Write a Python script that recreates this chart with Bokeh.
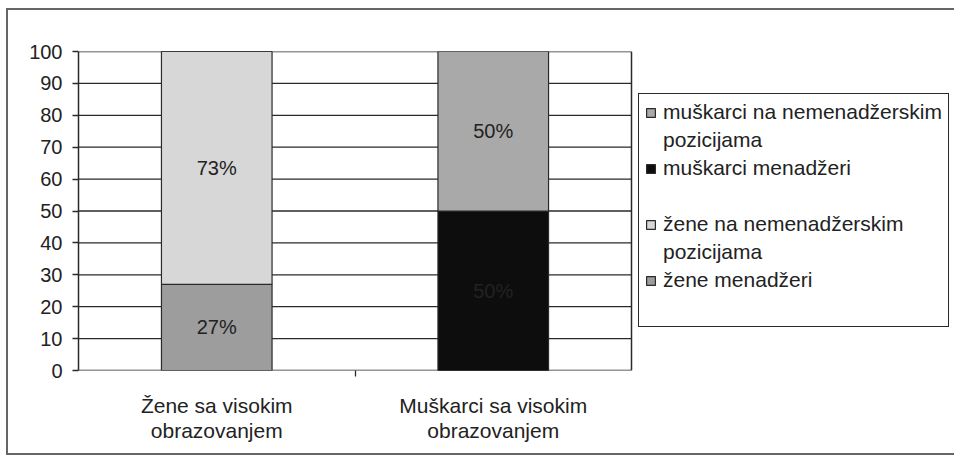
from bokeh.plotting import figure
from bokeh.models import Range1d, FixedTicker, Legend, LegendItem, ColumnDataSource
from bokeh.core.properties import value
from bokeh.embed import file_html
from bokeh.resources import INLINE

# ---- data ----
categories = ["Žene sa visokim\nobrazovanjem", "Muškarci sa visokim\nobrazovanjem"]
zene_menadzeri = [27, 0]
zene_nemenadzeri = [73, 0]
muskarci_menadzeri = [0, 50]
muskarci_nemenadzeri = [0, 50]
series_names = ["zene_menadzeri", "zene_nemenadzeri", "muskarci_menadzeri", "muskarci_nemenadzeri"]
series_values = [zene_menadzeri, zene_nemenadzeri, muskarci_menadzeri, muskarci_nemenadzeri]
# legend rows: (text, series or None for a continuation / blank row)
legend_rows = [
    ("muškarci na nemenadžerskim", "muskarci_nemenadzeri"),
    ("pozicijama", None),
    ("muškarci menadžeri", "muskarci_menadzeri"),
    (" ", None),
    ("žene na nemenadžerskim", "zene_nemenadzeri"),
    ("pozicijama", None),
    ("žene menadžeri", "zene_menadzeri"),
    ("  ", None),
]
y_ticks = [0, 10, 20, 30, 40, 50, 60, 70, 80, 90, 100]

colors = {
    "zene_menadzeri": "#9d9d9d",
    "zene_nemenadzeri": "#d7d7d7",
    "muskarci_menadzeri": "#0d0d0d",
    "muskarci_nemenadzeri": "#a9a9a9",
}

FONT = "Liberation Sans"
DARK = "#2a2a2a"

# layout constants (pixels)
W, H = 948, 447
LEFT, TOP = 70, 41
PLOT_W, PLOT_H = 553, 319
BOTTOM = H - TOP - PLOT_H
FRAME_W = W - LEFT                # frame extends under the legend area
n = len(categories)
x_end = n * FRAME_W / PLOT_W

xs = [i + 0.5 for i in range(n)]
data = {"x": xs}
for nm, v in zip(series_names, series_values):
    data[nm] = v
source = ColumnDataSource(data)

p = figure(width=W, height=H,
           x_range=Range1d(0, x_end), y_range=Range1d(0, 100),
           output_backend="svg", toolbar_location=None,
           min_border_left=LEFT, min_border_right=0,
           min_border_top=TOP, min_border_bottom=BOTTOM,
           background_fill_color="white", border_fill_color="white")
p.styles = {"border-left": "2px solid #666", "border-top": "2px solid #666",
            "border-bottom": "2px solid #666",
            "margin-left": "6px", "margin-top": "8px"}
p.outline_line_color = None
p.xgrid.grid_line_color = None
p.ygrid.grid_line_color = None

# gridlines (and baseline) across the bar area only
p.segment(x0=[0] * len(y_ticks), x1=[n] * len(y_ticks), y0=y_ticks, y1=y_ticks,
          line_color=DARK, line_width=1.3)
# right border of the bar area
p.segment(x0=[n], x1=[n], y0=[0], y1=[100], line_color=DARK, line_width=1.5)

renderers = p.vbar_stack(series_names, x="x", width=0.40, source=source,
                         fill_color=[colors[s] for s in series_names],
                         line_color=DARK, line_width=1.2)
rmap = dict(zip(series_names, renderers))
blank = p.vbar(x=[], top=[], width=0.4, fill_alpha=0, line_alpha=0)

# data labels at segment centers
lx, ly, lt = [], [], []
for ci in range(n):
    base = 0
    for vals in series_values:
        v = vals[ci]
        if v > 0:
            lx.append(xs[ci])
            ly.append(base + v / 2)
            lt.append(f"{v}%")
        base += v
p.text(x=lx, y=ly, text=lt, text_align="center", text_baseline="middle",
       text_font=value(FONT), text_font_size="20px", text_color="#222222")

# axes
p.yaxis.ticker = FixedTicker(ticks=y_ticks)
p.yaxis.major_tick_in = 0
p.yaxis.major_tick_out = 6
p.yaxis.minor_tick_line_color = None
p.yaxis.axis_line_color = DARK
p.yaxis.axis_line_width = 1.5
p.yaxis.major_tick_line_color = DARK
p.yaxis.major_tick_line_width = 1.3
p.yaxis.major_label_text_font = FONT
p.yaxis.major_label_text_font_size = "20px"
p.yaxis.major_label_text_color = "#222222"
p.yaxis.major_label_standoff = 10

p.xaxis.ticker = FixedTicker(ticks=xs, minor_ticks=[float(i) for i in range(1, n)])
p.xaxis.major_label_overrides = {x: c for x, c in zip(xs, categories)}
p.xaxis.major_tick_in = 0
p.xaxis.major_tick_out = 0
p.xaxis.minor_tick_in = 0
p.xaxis.minor_tick_out = 6
p.xaxis.minor_tick_line_color = DARK
p.xaxis.minor_tick_line_width = 1.3
p.xaxis.axis_line_color = None
p.xaxis.major_label_text_font = FONT
p.xaxis.major_label_text_font_size = "21px"
p.xaxis.major_label_text_color = "#222222"
p.xaxis.major_label_text_line_height = 1.1
p.xaxis.major_label_standoff = 17

items = [LegendItem(label=txt, renderers=[rmap[s] if s else blank]) for txt, s in legend_rows]
legend = Legend(items=items, location=(PLOT_W + 7, 43))
legend.border_line_color = DARK
legend.border_line_width = 1.5
legend.border_line_alpha = 1.0
legend.background_fill_color = "white"
legend.background_fill_alpha = 1.0
legend.padding = 6
legend.spacing = 4
legend.margin = 0
legend.glyph_width = 11
legend.glyph_height = 11
legend.label_height = 24
legend.label_standoff = 7
legend.label_text_font = FONT
legend.label_text_font_size = "21px"
legend.label_text_color = "#222222"
legend.label_text_baseline = "middle"
p.add_layout(legend)

open("out.html", "w").write(file_html(p, INLINE))
